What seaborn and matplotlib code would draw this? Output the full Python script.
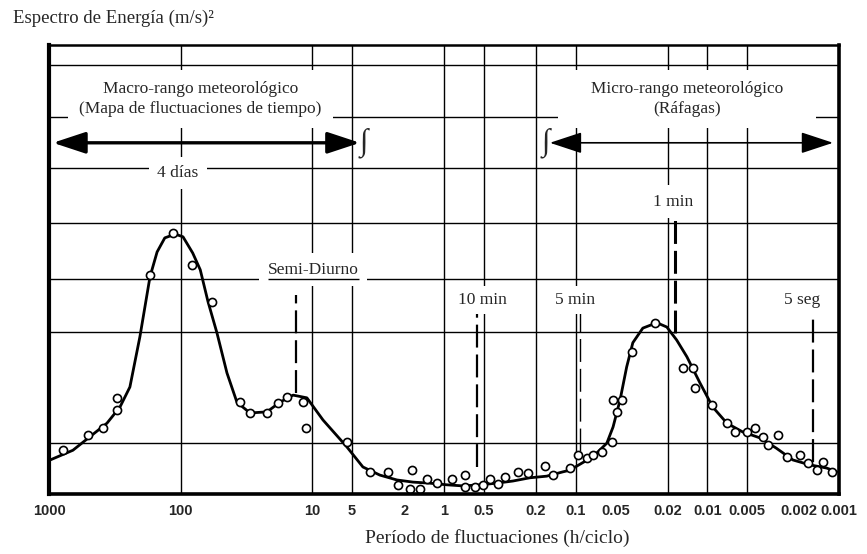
import matplotlib
matplotlib.use("Agg")
import matplotlib.pyplot as plt
import seaborn as sns
import pandas as pd
from matplotlib.ticker import FixedLocator, FixedFormatter, NullLocator

# ---------------- data ----------------
curve_period = [980, 658, 489, 363, 289, 243, 204, 171, 151, 132, 110, 96, 81, 71,
                62, 53, 44.5, 37.4, 29.8, 22.1, 17.6, 14.0, 11.0, 8.3, 5.46, 4.13,
                3.07, 2.28, 1.72, 1.28, 0.95, 0.72, 0.53, 0.40, 0.30, 0.223, 0.166,
                0.125, 0.111, 0.074, 0.058, 0.052, 0.046, 0.041, 0.0368, 0.0309,
                0.0242, 0.0203, 0.0171, 0.0143, 0.0114, 0.0091, 0.0071, 0.0054,
                0.0040, 0.0030, 0.00224, 0.00167, 0.00124, 0.00104]
curve_energy = [0.63, 0.81, 1.06, 1.31, 1.61, 1.98, 2.91, 4.02, 4.48, 4.74, 4.81, 4.76,
                4.46, 4.15, 3.56, 2.98, 2.24, 1.70, 1.50, 1.52, 1.70, 1.83, 1.78, 1.37,
                0.87, 0.50, 0.35, 0.26, 0.22, 0.20, 0.17, 0.15, 0.17, 0.20, 0.24, 0.30,
                0.33, 0.41, 0.44, 0.69, 0.94, 1.24, 1.74, 2.35, 2.80, 3.07, 3.17, 3.09,
                2.85, 2.54, 2.06, 1.61, 1.31, 1.15, 1.04, 0.85, 0.63, 0.54, 0.48, 0.41]

obs_period = [783, 506, 389, 305, 305, 171, 114, 82, 57.8, 35.5, 29.8, 22.1, 18.2,
              15.6, 11.8, 11.2, 5.46, 3.66, 2.67, 1.75, 2.24, 1.82, 1.52, 1.35, 1.13,
              0.87, 0.69, 0.69, 0.58, 0.51, 0.45, 0.39, 0.345, 0.275, 0.231, 0.171,
              0.149, 0.111, 0.096, 0.082, 0.074, 0.063, 0.053, 0.052, 0.0446, 0.0486,
              0.0374, 0.0251, 0.0153, 0.0129, 0.0124, 0.0092, 0.0071, 0.0062, 0.0050,
              0.00436, 0.0038, 0.00348, 0.00292, 0.00249, 0.00199, 0.00173, 0.00148,
              0.00133, 0.00114]
obs_energy = [0.81, 1.09, 1.22, 1.56, 1.78, 4.06, 4.83, 4.24, 3.56, 1.70, 1.50, 1.50,
              1.69, 1.80, 1.70, 1.22, 0.96, 0.41, 0.41, 0.44, 0.17, 0.09, 0.09, 0.28,
              0.20, 0.28, 0.35, 0.13, 0.13, 0.17, 0.28, 0.19, 0.31, 0.41, 0.39, 0.52,
              0.35, 0.48, 0.72, 0.67, 0.72, 0.78, 0.96, 1.74, 1.74, 1.52, 2.63, 3.17,
              2.33, 2.33, 1.96, 1.65, 1.31, 1.15, 1.15, 1.22, 1.06, 0.91, 1.09, 0.69,
              0.72, 0.57, 0.44, 0.59, 0.41]

tick_values = [1000, 100, 10, 5, 2, 1, 0.5, 0.2, 0.1, 0.05, 0.02, 0.01, 0.005, 0.002, 0.001]
tick_labels = ["1000", "100", "10", "5", "2", "1", "0.5", "0.2", "0.1", "0.05",
               "0.02", "0.01", "0.005", "0.002", "0.001"]
grid_periods = [100, 10, 5, 1, 0.5, 0.2, 0.1, 0.02, 0.01, 0.005]
grid_levels = [0.95, 3.0, 3.98, 5.02, 6.04, 6.98, 7.94]

marker_names = ["Semi-Diurno", "10 min", "5 min", "1 min", "5 seg"]
marker_periods = [13.3, 0.56, 0.092, 0.0175, 0.00158]
marker_tops = [3.69, 3.41, 3.35, 5.13, 3.37]
marker_bottoms = [1.87, 0.50, 0.80, 2.98, 0.60]
marker_widths = [1.6, 1.6, 1.0, 2.2, 1.6]
label_periods = [9.9, 0.507, 0.1013, 0.0183, 0.00191]
label_levels = [4.15, 3.59, 3.59, 5.41, 3.59]

title_text = "Espectro de Energía (m/s)²"
xlabel_text = "Período de fluctuaciones (h/ciclo)"
macro_text = "Macro-rango meteorológico\n(Mapa de fluctuaciones de tiempo)"
micro_text = "     Micro-rango meteorológico     \n(Ráfagas)"
days_text = "4 días"

# ---------------- style ----------------
sns.set_style("white")
plt.rcParams["font.family"] = ["Liberation Serif", "DejaVu Serif"]
SERIF = ["Liberation Serif", "DejaVu Serif"]

fig = plt.figure(figsize=(8.67, 5.54), dpi=100)
ax = fig.add_axes([49 / 867, 60 / 554, 790 / 867, 449 / 554])
ax.set_xscale("log")

curve_df = pd.DataFrame({"periodo": curve_period, "energia": curve_energy})
obs_df = pd.DataFrame({"periodo": obs_period, "energia": obs_energy})

sns.lineplot(data=curve_df, x="periodo", y="energia", sort=False, estimator=None,
             color="black", linewidth=2.0, ax=ax, zorder=3)
sns.scatterplot(data=obs_df, x="periodo", y="energia", marker="o", s=34,
                facecolor="white", edgecolor="black", linewidth=1.2, ax=ax, zorder=4)

ax.set_xlim(1000, 0.001)
ax.set_ylim(0, 8.31)

# ticks / grid
ax.xaxis.set_major_locator(FixedLocator(tick_values))
ax.xaxis.set_major_formatter(FixedFormatter(tick_labels))
ax.xaxis.set_minor_locator(NullLocator())
ax.yaxis.set_major_locator(FixedLocator(grid_levels))
ax.yaxis.set_minor_locator(NullLocator())
ax.set_yticklabels([])
ax.tick_params(axis="both", which="both", length=0)
ax.tick_params(axis="x", which="major", pad=7)
for lab in ax.get_xticklabels():
    lab.set_fontfamily(["Liberation Sans", "DejaVu Sans"])
    lab.set_fontweight("bold")
    lab.set_fontsize(10.5)
ax.grid(False)
for g in grid_periods:
    ax.axvline(g, color="black", linewidth=1.0, zorder=1)
for g in grid_levels:
    ax.axhline(g, color="black", linewidth=1.0, zorder=1)
ax.set_xlabel("")
ax.set_ylabel("")

for side, lw in {"left": 3.0, "bottom": 2.6, "top": 1.8, "right": 2.6}.items():
    ax.spines[side].set_visible(True)
    ax.spines[side].set_color("black")
    ax.spines[side].set_linewidth(lw)
    ax.spines[side].set_zorder(6)

# dashed markers
for p, top, bot, lw in zip(marker_periods, marker_tops, marker_bottoms, marker_widths):
    ax.vlines(p, bot, top, colors="black", linewidth=lw,
              linestyles=(0, (16.5 / lw, 5.0 / lw)), zorder=3)

box = dict(facecolor="white", edgecolor="none")
for name, px, py in zip(marker_names, label_periods, label_levels):
    padv = 6 if name in ("Semi-Diurno", "1 min") else 4
    ax.text(px, py, name, ha="center", va="center", fontsize=12.5, family=SERIF,
            bbox=dict(box, pad=padv), zorder=3.5)
# underline of Semi-Diurno
ax.hlines(grid_levels[2], 21.7, 4.43, colors="black", linewidth=1.0, zorder=5)

ax.text(71, 7.31, macro_text, ha="center", va="center", fontsize=12.5, family=SERIF,
        linespacing=1.3, bbox=dict(box, pad=8), zorder=3.5)
ax.text(0.0143, 7.31, micro_text, ha="center", va="center", fontsize=12.5, family=SERIF,
        linespacing=1.3, bbox=dict(box, pad=8), zorder=3.5)
ax.text(105, 5.94, days_text, ha="center", va="center", fontsize=12.5, family=SERIF,
        bbox=dict(box, pad=6), zorder=3.5)

# range arrows
ax.annotate("", xy=(933, 6.5), xytext=(4.35, 6.5),
            arrowprops=dict(arrowstyle="<|-|>,head_length=1.0,head_width=0.33",
                            mutation_scale=20, lw=2.4, color="black",
                            shrinkA=0, shrinkB=0), zorder=5)
ax.annotate("", xy=(0.157, 6.5), xytext=(0.00111, 6.5),
            arrowprops=dict(arrowstyle="<|-|>,head_length=1.0,head_width=0.33",
                            mutation_scale=20, lw=1.2, color="black",
                            shrinkA=0, shrinkB=0), zorder=5)
ax.text(4.1, 6.5, "∫", ha="center", va="center", fontsize=22, family=SERIF, zorder=6)
ax.text(0.168, 6.5, "∫", ha="center", va="center", fontsize=22, family=SERIF, zorder=6)

fig.text(13 / 867, 1 - 18 / 554, title_text, ha="left", va="center",
         fontsize=13.5, family=SERIF)
fig.text(497 / 867, 1 - 538 / 554, xlabel_text, ha="center", va="center",
         fontsize=14, family=SERIF)

fig.savefig("out.png", dpi=100)
